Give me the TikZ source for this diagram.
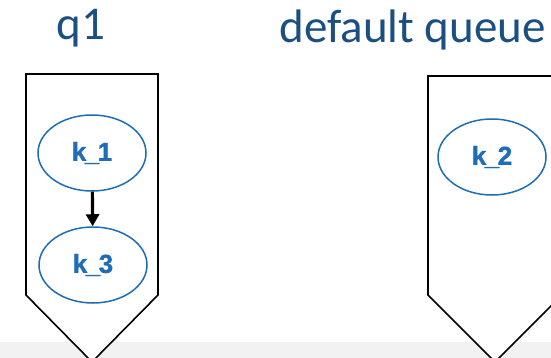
\documentclass[tikz,border=0pt]{standalone}
\usepackage{fontspec}
\setmainfont{Carlito}
\newfontfamily\labelfont[FakeBold=1.2]{Liberation Sans Bold}
\usetikzlibrary{shapes.geometric,arrows.meta}
\definecolor{titleblue}{HTML}{1B4F82}
\definecolor{taskblue}{HTML}{1F6DB5}
\definecolor{bandgray}{HTML}{F2F2F2}
\tikzset{
  queue/.style={draw=black, line width=1.6pt, fill=white},
  task/.style={ellipse, draw=taskblue, line width=1.5pt, minimum width=108pt, minimum height=76pt,
    text=taskblue, font=\labelfont\fontsize{26}{26}\selectfont},
  title/.style={text=titleblue, anchor=base, font=\fontsize{47}{47}\selectfont},
  dep/.style={-{Triangle[length=12pt,width=13pt]}, line width=3.2pt, black}
}
\begin{document}
\begin{tikzpicture}[x=1pt,y=-1pt]
  \useasboundingbox (0,0) rectangle (551,358);
  \begin{scope}
    \clip (0,0) rectangle (551,358);
    % footer strip
    \fill[bandgray] (0,342) rectangle (551,358);
    % queues drawn as downward pentagons
    \draw[queue] (26,74) -- (158,74) -- (158,295) -- (92,362) -- (26,295) -- cycle;
    \draw[queue] (428,76) -- (562,76) -- (562,295) -- (495,362) -- (428,295) -- cycle;
  \end{scope}
  \node[title] (tq1) at (81,40) {q1};
  \node[title, anchor=base west] (tdef) at (276,43) {default queue};
  \node[task] (k1) at (92,153) {k\kern-1.5pt\_\kern-1.5pt1};
  \node[task] (k3) at (93,265) {k\kern-1.5pt\_\kern-1.5pt3};
  \node[task] (k2) at (492,157) {k\kern-1.5pt\_\kern-1.5pt2};
  \draw[dep] (k1) -- (k3);
\end{tikzpicture}
\end{document}
